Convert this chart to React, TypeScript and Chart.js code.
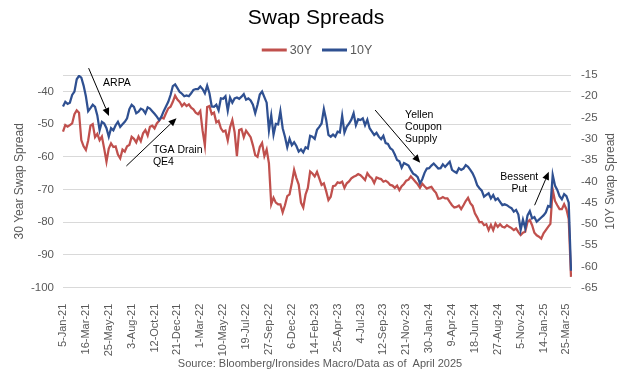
import React, { useEffect, useRef } from "react";
import { Chart, registerables } from "chart.js";

Chart.register(...registerables);

// ---------- DATA ----------
const MONTHS = ["Jan", "Feb", "Mar", "Apr", "May", "Jun", "Jul", "Aug", "Sep", "Oct", "Nov", "Dec"];
const N_WEEKS = 223; // weekly observations starting 5-Jan-21
const CATEGORIES: string[] = Array.from({ length: N_WEEKS }, (_, k) => {
  const d = new Date(Date.UTC(2021, 0, 5 + 7 * k));
  return `${d.getUTCDate()}-${MONTHS[d.getUTCMonth()]}-${String(d.getUTCFullYear()).slice(2)}`;
});

const TICK_LABELS = [
  "5-Jan-21", "16-Mar-21", "25-May-21", "3-Aug-21", "12-Oct-21", "21-Dec-21",
  "1-Mar-22", "10-May-22", "19-Jul-22", "27-Sep-22", "6-Dec-22", "14-Feb-23",
  "25-Apr-23", "4-Jul-23", "12-Sep-23", "21-Nov-23", "30-Jan-24", "9-Apr-24",
  "18-Jun-24", "27-Aug-24", "5-Nov-24", "14-Jan-25", "25-Mar-25",
];

// 30Y swap spread (left axis)
const SPREAD_30Y = [
  -52.3, -50.3, -50.8, -50.3, -49.8, -47.0, -45.8, -46.5, -54.9, -56.8,
  -57.9, -55.0, -50.5, -50.0, -54.0, -53.0, -54.9, -53.8, -57.5, -61.5,
  -57.5, -55.9, -57.0, -56.8, -59.3, -60.5, -57.8, -58.4, -56.8, -56.4,
  -53.9, -54.5, -55.6, -53.8, -55.2, -52.8, -51.8, -53.5, -50.8, -50.5,
  -51.3, -49.8, -49.0, -48.0, -48.3, -46.7, -45.2, -44.7, -43.2, -41.3,
  -42.5, -43.2, -44.5, -43.7, -44.5, -44.0, -45.0, -45.5, -46.5, -47.0,
  -46.0, -52.0, -56.5, -44.8, -44.5, -47.0, -46.5, -49.5, -49.0, -51.3,
  -52.3, -52.0, -55.0, -51.0, -48.8, -52.5, -59.8, -51.8, -51.5, -54.0,
  -52.0, -53.0, -54.0, -56.5, -59.5, -60.0, -57.0, -55.8, -59.8, -57.8,
  -62.0, -74.5, -72.5, -74.0, -74.5, -74.5, -77.0, -74.8, -72.0, -71.5,
  -68.0, -64.0, -66.5, -68.5, -74.0, -75.5, -71.5, -69.5, -64.5, -65.1,
  -66.0, -64.6, -66.6, -68.6, -68.1, -70.5, -73.2, -72.2, -69.0, -68.8,
  -67.8, -68.0, -67.6, -69.5, -68.1, -67.5, -66.6, -66.1, -65.8, -65.3,
  -65.6, -66.3, -67.1, -65.0, -66.0, -66.6, -68.0, -66.3, -66.6, -66.8,
  -67.6, -67.3, -67.8, -68.6, -68.8, -69.5, -68.8, -70.2, -69.0, -68.3,
  -67.3, -67.0, -66.0, -66.8, -67.6, -68.4, -69.5, -68.2, -69.0, -69.7,
  -69.4, -69.2, -70.2, -71.0, -72.8, -72.7, -72.3, -72.7, -72.7, -73.8,
  -74.8, -75.5, -75.3, -74.9, -76.0, -74.8, -73.5, -72.5, -74.2, -75.0,
  -77.3, -78.5, -80.0, -79.9, -80.9, -80.6, -82.4, -80.8, -82.4, -80.4,
  -81.4, -80.6, -81.4, -81.6, -80.9, -81.4, -81.8, -82.4, -81.9, -83.0,
  -83.9, -83.2, -82.9, -79.9, -79.3, -80.9, -83.2, -84.0, -84.4, -85.0,
  -83.4, -82.4, -81.4, -80.5, -70.0, -73.5, -74.8, -76.0, -76.0, -74.5,
  -76.0, -79.0, -96.7,
];

// 10Y swap spread (right axis)
const SPREAD_10Y = [
  -22.4, -21.3, -21.8, -21.5, -19.7, -18.9, -16.0, -15.2, -15.6, -17.5,
  -20.0, -23.5, -22.8, -22.0, -22.5, -24.5, -28.0, -26.0, -26.4, -27.5,
  -29.5, -27.5, -28.0, -26.8, -26.0, -27.2, -26.6, -26.0, -25.2, -23.0,
  -22.0, -22.5, -24.0, -23.6, -22.9, -23.2, -24.0, -22.6, -22.9, -23.5,
  -24.1, -24.8, -25.6, -24.8, -23.5, -22.4, -21.3, -19.7, -17.6, -17.2,
  -18.1, -19.0, -19.4, -20.0, -19.8, -20.0, -19.3, -18.5, -18.3, -18.3,
  -17.7, -18.3, -19.3, -17.5, -19.3, -22.4, -22.5, -22.0, -23.3, -20.5,
  -20.6, -20.0, -23.4, -20.3, -21.5, -20.5, -20.3, -20.6, -20.1, -19.5,
  -20.8, -20.5, -21.0, -22.0, -24.0, -22.0, -19.6, -18.9, -20.2, -21.5,
  -28.0, -24.5, -29.0, -26.5, -26.6, -23.5, -27.5, -29.5, -32.0, -30.0,
  -31.5, -30.8, -31.7, -33.0, -32.5, -33.2, -32.0, -32.3, -29.3, -29.5,
  -30.0, -27.9, -27.2, -26.4, -23.0, -25.5, -29.1, -29.5, -29.0, -29.5,
  -28.3, -28.5, -24.6, -28.5, -27.1, -26.4, -25.5, -24.0, -26.8, -25.4,
  -25.6, -25.2, -26.8, -25.5, -27.5, -28.3, -29.1, -28.6, -29.5, -30.1,
  -29.3, -31.0, -31.2, -32.2, -32.6, -33.7, -35.0, -35.3, -36.8, -35.7,
  -36.0, -36.3, -37.3, -38.2, -38.5, -39.0, -40.5, -39.5, -38.0, -37.0,
  -36.9, -36.3, -35.8, -36.4, -37.0, -36.9, -36.0, -36.6, -36.0, -35.4,
  -37.3, -37.7, -38.0, -36.9, -37.3, -37.0, -36.2, -36.6, -37.3, -38.1,
  -39.3, -40.9, -41.6, -42.2, -43.6, -43.2, -42.8, -44.0, -43.2, -44.4,
  -44.0, -44.8, -45.6, -45.4, -45.6, -46.0, -46.3, -47.1, -46.7, -47.8,
  -51.4, -49.0, -51.0, -48.0, -47.0, -48.7, -48.4, -49.5, -49.0, -48.5,
  -48.0, -47.3, -45.8, -46.0, -38.5, -41.0, -42.0, -43.5, -44.2, -43.0,
  -43.5, -45.0, -61.0,
];

const LEFT_TICKS = [-100, -90, -80, -70, -60, -50, -40, -35];
const RIGHT_TICKS = [-65, -60, -55, -50, -45, -40, -35, -30, -25, -20, -15];

// annotations in data coordinates (week index, 30Y-axis value)
const NOTE_TEXTS = [
  { lines: ["ARPA"], i: 17.5, v: -37.4, align: "left" },
  { lines: ["TGA Drain", "QE4"], i: 39.3, v: -58.1, align: "left" },
  { lines: ["Yellen", "Coupon", "Supply"], i: 149.5, v: -47.2, align: "left" },
  { lines: ["Bessent", "Put"], i: 199.4, v: -66.1, align: "center" },
];
const NOTE_ARROWS = [
  { from: [11.2, -32.9], to: [20.1, -47.5] },
  { from: [27.7, -62.8], to: [49.6, -48.2] },
  { from: [136.4, -45.7], to: [156.1, -61.8] },
  { from: [206.1, -74.8], to: [212.3, -64.6] },
];

// ---------- STYLE ----------
const FONT = "'Liberation Sans', Arial, sans-serif";
const RED = "#C0504D";
const BLUE = "#2F5091";
const GREY = "#595959";
const W = 627;
const H = 374;

const overlayPlugin = {
  id: "overlay",
  afterDraw(chart: any) {
    const { ctx, chartArea, scales } = chart;
    const cx = (chartArea.left + chartArea.right) / 2;
    ctx.save();

    // title
    ctx.fillStyle = "#000";
    ctx.font = `21px ${FONT}`;
    ctx.textAlign = "center";
    ctx.textBaseline = "middle";
    ctx.fillText("Swap Spreads", cx - 1, 18);

    // legend
    ctx.font = `12.5px ${FONT}`;
    const items = chart.data.datasets.map((d: any) => ({ label: d.label, color: d.borderColor }));
    const lineLen = 25, gap = 3, itemGap = 10;
    const widths = items.map((it: any) => lineLen + gap + ctx.measureText(it.label).width);
    const total = widths.reduce((a: number, b: number) => a + b, 0) + itemGap * (items.length - 1);
    let x = cx - total / 2;
    const ly = 50;
    items.forEach((it: any, k: number) => {
      ctx.strokeStyle = it.color;
      ctx.lineWidth = 3;
      ctx.beginPath();
      ctx.moveTo(x, ly);
      ctx.lineTo(x + lineLen, ly);
      ctx.stroke();
      ctx.fillStyle = GREY;
      ctx.textAlign = "left";
      ctx.fillText(it.label, x + lineLen + gap, ly + 1);
      x += widths[k] + itemGap;
    });

    // axis titles
    ctx.font = `12px ${FONT}`;
    ctx.fillStyle = GREY;
    ctx.textAlign = "center";
    const midY = (chartArea.top + chartArea.bottom) / 2;
    [
      ["30 Year Swap Spread", 20],
      ["10Y Swap Spread", 611],
    ].forEach(([t, px]: any) => {
      ctx.save();
      ctx.translate(px, midY);
      ctx.rotate(-Math.PI / 2);
      ctx.fillText(t, 0, 0);
      ctx.restore();
    });

    // source
    ctx.font = `11px ${FONT}`;
    ctx.fillText("Source: Bloomberg/Ironsides Macro/Data as of  April 2025", 320, 364);

    // annotations
    const xs = scales.x, ys = scales.y;
    ctx.fillStyle = "#000";
    ctx.font = `10.5px ${FONT}`;
    NOTE_TEXTS.forEach((n) => {
      const px = xs.getPixelForValue(n.i);
      const py = ys.getPixelForValue(n.v);
      ctx.textAlign = n.align as CanvasTextAlign;
      n.lines.forEach((l, k) => ctx.fillText(l, px, py + k * 12));
    });
    ctx.strokeStyle = "#000";
    ctx.lineWidth = 1;
    NOTE_ARROWS.forEach((a) => {
      const x0 = xs.getPixelForValue(a.from[0]);
      const y0 = ys.getPixelForValue(a.from[1]);
      const x1 = xs.getPixelForValue(a.to[0]);
      const y1 = ys.getPixelForValue(a.to[1]);
      const ang = Math.atan2(y1 - y0, x1 - x0);
      const hl = 8, hw = 3.5;
      const bx = x1 - hl * Math.cos(ang);
      const by = y1 - hl * Math.sin(ang);
      ctx.beginPath();
      ctx.moveTo(x0, y0);
      ctx.lineTo(bx, by);
      ctx.stroke();
      ctx.beginPath();
      ctx.moveTo(x1, y1);
      ctx.lineTo(bx + hw * Math.sin(ang), by - hw * Math.cos(ang));
      ctx.lineTo(bx - hw * Math.sin(ang), by + hw * Math.cos(ang));
      ctx.closePath();
      ctx.fill();
    });

    ctx.restore();
  },
};

export default function App() {
  const ref = useRef<HTMLCanvasElement | null>(null);

  useEffect(() => {
    if (!ref.current) return;
    const tickFont = { family: FONT, size: 11.5 };
    const chart = new Chart(ref.current, {
      type: "line",
      data: {
        labels: CATEGORIES,
        datasets: [
          {
            label: "30Y",
            data: SPREAD_30Y,
            borderColor: RED,
            backgroundColor: RED,
            borderWidth: 2.25,
            pointRadius: 0,
            tension: 0,
            yAxisID: "y",
            order: 1,
          },
          {
            label: "10Y",
            data: SPREAD_10Y,
            borderColor: BLUE,
            backgroundColor: BLUE,
            borderWidth: 2.25,
            pointRadius: 0,
            tension: 0,
            yAxisID: "y1",
            order: 0,
          },
        ],
      },
      options: {
        responsive: false,
        animation: false,
        devicePixelRatio: 1,
        layout: { padding: { top: 75, left: 0, right: 0, bottom: 0 } },
        plugins: {
          legend: { display: false },
          title: { display: false },
          tooltip: { enabled: false },
        },
        scales: {
          x: {
            type: "category",
            grid: { display: false },
            border: { display: false },
            ticks: {
              autoSkip: false,
              maxRotation: 90,
              minRotation: 90,
              padding: 8,
              color: GREY,
              font: { family: FONT, size: 11 },
              callback: (_v: any, idx: number) => (idx % 10 === 0 ? TICK_LABELS[idx / 10] ?? "" : ""),
            },
            afterFit: (s: any) => {
              s.height = 86.3;
            },
          },
          y: {
            position: "left",
            min: -100,
            max: -35,
            grid: { color: "#D9D9D9", lineWidth: 1, drawTicks: false },
            border: { display: false },
            afterBuildTicks: (s: any) => {
              s.ticks = LEFT_TICKS.map((v) => ({ value: v }));
            },
            ticks: {
              padding: 9,
              color: GREY,
              font: tickFont,
              callback: (v: any) => (v === -35 ? "" : String(v)),
            },
            afterFit: (s: any) => {
              s.width = 63;
            },
          },
          y1: {
            position: "right",
            min: -65,
            max: -15,
            grid: { display: false, drawTicks: false },
            border: { display: false },
            afterBuildTicks: (s: any) => {
              s.ticks = RIGHT_TICKS.map((v) => ({ value: v }));
            },
            ticks: {
              padding: 10,
              color: GREY,
              font: tickFont,
              callback: (v: any) => String(v),
            },
            afterFit: (s: any) => {
              s.width = 56;
            },
          },
        },
      },
      plugins: [overlayPlugin],
    });
    return () => chart.destroy();
  }, []);

  return (
    <div style={{ position: "fixed", left: 0, top: 0, width: W, height: H, background: "#fff" }}>
      <canvas ref={ref} width={W} height={H} style={{ display: "block", width: W, height: H }} />
    </div>
  );
}
